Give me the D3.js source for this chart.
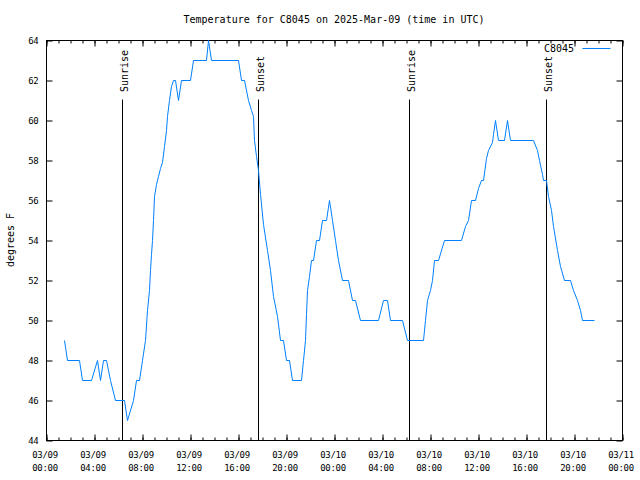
<!DOCTYPE html>
<html><head><meta charset="utf-8">
<script src="https://cdn.jsdelivr.net/npm/d3@7"></script>
<style>
html,body{margin:0;padding:0;background:#fff;}
text{font-family:"DejaVu Sans Mono","Liberation Mono",monospace;font-size:10px;fill:#000;}
.tick text{font-size:9px;letter-spacing:-0.3px;}
</style></head>
<body><svg id="c" width="640" height="480"></svg>
<script>
const title = "Temperature for C8045 on 2025-Mar-09 (time in UTC)";
const seriesName = "C8045";
const yLabel = "degrees F";
const times = [
"2025-03-09T01:30","2025-03-09T01:45","2025-03-09T02:45","2025-03-09T03:00","2025-03-09T03:45",
"2025-03-09T04:15","2025-03-09T04:30","2025-03-09T04:45","2025-03-09T05:00","2025-03-09T05:20",
"2025-03-09T05:45","2025-03-09T06:30","2025-03-09T06:45","2025-03-09T07:15","2025-03-09T07:30",
"2025-03-09T07:45","2025-03-09T08:00","2025-03-09T08:15","2025-03-09T08:25","2025-03-09T08:35",
"2025-03-09T08:40","2025-03-09T08:45","2025-03-09T08:50","2025-03-09T08:55","2025-03-09T09:00",
"2025-03-09T09:10","2025-03-09T09:20","2025-03-09T09:30","2025-03-09T09:40","2025-03-09T09:50",
"2025-03-09T10:00","2025-03-09T10:05","2025-03-09T10:15","2025-03-09T10:25","2025-03-09T10:35",
"2025-03-09T10:45","2025-03-09T11:00","2025-03-09T11:15","2025-03-09T12:00","2025-03-09T12:15",
"2025-03-09T13:20","2025-03-09T13:30","2025-03-09T13:45","2025-03-09T16:00","2025-03-09T16:15",
"2025-03-09T16:30","2025-03-09T16:50","2025-03-09T17:05","2025-03-09T17:15","2025-03-09T17:20",
"2025-03-09T17:30","2025-03-09T17:40","2025-03-09T17:50","2025-03-09T18:05","2025-03-09T18:25",
"2025-03-09T18:40","2025-03-09T18:55","2025-03-09T19:15","2025-03-09T19:30","2025-03-09T19:45",
"2025-03-09T20:00","2025-03-09T20:15","2025-03-09T20:30","2025-03-09T21:15","2025-03-09T21:25",
"2025-03-09T21:35","2025-03-09T21:40","2025-03-09T21:45","2025-03-09T21:55","2025-03-09T22:05",
"2025-03-09T22:15","2025-03-09T22:30","2025-03-09T22:45","2025-03-09T23:00","2025-03-09T23:20",
"2025-03-09T23:35","2025-03-09T23:50","2025-03-10T00:05","2025-03-10T00:20","2025-03-10T00:40",
"2025-03-10T01:10","2025-03-10T01:30","2025-03-10T01:45","2025-03-10T02:10","2025-03-10T03:40",
"2025-03-10T04:05","2025-03-10T04:25","2025-03-10T04:40","2025-03-10T05:40","2025-03-10T06:05",
"2025-03-10T07:25","2025-03-10T07:35","2025-03-10T07:45","2025-03-10T08:00","2025-03-10T08:10",
"2025-03-10T08:20","2025-03-10T08:40","2025-03-10T09:10","2025-03-10T10:35","2025-03-10T10:55",
"2025-03-10T11:10","2025-03-10T11:25","2025-03-10T11:45","2025-03-10T12:00","2025-03-10T12:15",
"2025-03-10T12:25","2025-03-10T12:40","2025-03-10T12:50","2025-03-10T13:10","2025-03-10T13:15",
"2025-03-10T13:25","2025-03-10T13:40","2025-03-10T14:10","2025-03-10T14:25","2025-03-10T14:40",
"2025-03-10T16:35","2025-03-10T16:55","2025-03-10T17:05","2025-03-10T17:20","2025-03-10T17:25",
"2025-03-10T17:40","2025-03-10T17:50","2025-03-10T18:05","2025-03-10T18:15","2025-03-10T18:35",
"2025-03-10T18:50","2025-03-10T19:10","2025-03-10T19:40","2025-03-10T19:55","2025-03-10T20:15",
"2025-03-10T20:30","2025-03-10T20:40","2025-03-10T21:40"
];
const temps = [
49,48,48,47,47,
48,47,48,48,47,
46,46,45,46,47,
47,48,49,50.5,51.5,
52.5,53.3,54,55,56.2,
56.8,57.2,57.6,57.9,58.7,
59.5,60.2,61,61.7,62,
62,61,62,62,63,
63,64,63,63,62,
62,61,60.5,60.2,59,
58.2,57.5,56.3,54.8,53.5,
52.5,51.2,50.2,49,49,
48,48,47,47,48,
49,50.3,51.5,52.2,53,
53,54,54,55,55,
56,55,54,53,52,
52,51,51,50,50,
51,51,50,50,49,
49,50,51,51.5,52,
53,53,54,54,54.7,
55,56,56,56.6,57,
57,58.1,58.5,58.9,59.3,
60,59,59,60,59,
59,58.5,58,57.3,57,
57,56.2,55.5,54.7,53.5,
52.7,52,52,51.5,51,
50.5,50,50
];
const sunTimes = ["2025-03-09T06:22","2025-03-09T17:41","2025-03-10T06:16","2025-03-10T17:41"];
const sunLabels = ["Sunrise","Sunset","Sunrise","Sunset"];
const xDomain = ["2025-03-09T00:00","2025-03-11T00:00"];
const yDomain = [44,64];
const yTicks = [44,46,48,50,52,54,56,58,60,62,64];

const parse = d3.utcParse("%Y-%m-%dT%H:%M");
const L=46, R=622, T=40, B=440;
const x = d3.scaleUtc().domain(xDomain.map(parse)).range([L,R]);
const y = d3.scaleLinear().domain(yDomain).range([B,T]);
const svg = d3.select("#c");
const g = svg.append("g").attr("transform","translate(0.5,0.5)");

// title
svg.append("text").attr("x",(L+R)/2).attr("y",23).attr("text-anchor","middle").text(title);

const xt = d3.utcHour.every(4);
const xm = d3.utcHour.every(1);
const fmtD = d3.utcFormat("%m/%d"), fmtT = d3.utcFormat("%H:%M");

// minor ticks
g.append("g").attr("transform",`translate(0,${B})`)
 .call(d3.axisBottom(x).ticks(xm).tickSizeInner(-3).tickSizeOuter(0).tickFormat(""))
 .call(s=>s.select(".domain").remove());
g.append("g").attr("transform",`translate(0,${T})`)
 .call(d3.axisTop(x).ticks(xm).tickSizeInner(-3).tickSizeOuter(0).tickFormat(""))
 .call(s=>s.select(".domain").remove());

// major bottom
const bx = g.append("g").attr("transform",`translate(0,${B})`)
 .call(d3.axisBottom(x).ticks(xt).tickSizeInner(-6).tickSizeOuter(0).tickPadding(6).tickFormat(""))
 .call(s=>s.select(".domain").remove());
bx.selectAll(".tick").each(function(d){
  const t = d3.select(this).select("text").attr("y",null).attr("dy",null);
  t.append("tspan").attr("x",-2).attr("y",17).text(fmtD(d));
  t.append("tspan").attr("x",-2).attr("y",30).text(fmtT(d));
});
bx.selectAll("text").attr("font-family",null).attr("font-size",null);
g.append("g").attr("transform",`translate(0,${T})`)
 .call(d3.axisTop(x).ticks(xt).tickSizeInner(-6).tickSizeOuter(0).tickFormat(""))
 .call(s=>s.select(".domain").remove());

// y axes
g.append("g").attr("transform",`translate(${L},0)`)
 .call(d3.axisLeft(y).tickValues(yTicks).tickSizeInner(-6).tickSizeOuter(0).tickPadding(8).tickFormat(d3.format("d")))
 .call(s=>s.select(".domain").remove())
 .call(s=>s.selectAll("text").attr("font-family",null).attr("font-size",null).attr("x",-8));
g.append("g").attr("transform",`translate(${R},0)`)
 .call(d3.axisRight(y).tickValues(yTicks).tickSizeInner(-6).tickSizeOuter(0).tickFormat(""))
 .call(s=>s.select(".domain").remove());
g.selectAll(".tick line").attr("stroke","#000");

// frame
g.append("rect").attr("x",L).attr("y",T).attr("width",R-L).attr("height",B-T)
 .attr("fill","none").attr("stroke","#000");

// y label
svg.append("text").attr("transform","translate(14,240) rotate(-90)").attr("text-anchor","middle").text(yLabel);

// sun lines
sunTimes.forEach((s,i)=>{
  const xx = Math.round(x(parse(s)));
  g.append("line").attr("x1",xx).attr("x2",xx).attr("y1",99).attr("y2",B).attr("stroke","#000");
  svg.append("text").attr("transform",`translate(${xx+6},92) rotate(-90)`).text(sunLabels[i]);
});

// data line
const data = times.map((t,i)=>({t:parse(t),v:temps[i]}));
g.append("path").datum(data).attr("fill","none").attr("stroke","#0080ff").attr("stroke-width",1)
 .attr("d",d3.line().x(d=>x(d.t)).y(d=>y(d.v)));

// legend
svg.append("text").attr("x",574).attr("y",52).attr("text-anchor","end").text(seriesName);
g.append("line").attr("x1",582).attr("x2",610).attr("y1",48).attr("y2",48).attr("stroke","#0080ff");
</script></body></html>
